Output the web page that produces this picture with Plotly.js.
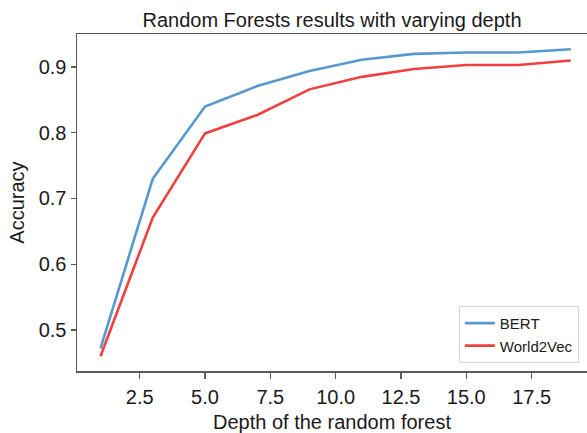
<!DOCTYPE html>
<html>
<head>
<meta charset="utf-8">
<script src="https://cdn.plot.ly/plotly-3.0.1.min.js"></script>
<style>
  html, body { margin: 0; padding: 0; background: #fff; overflow: hidden; }
  #chart { width: 587px; height: 433px; }
</style>
</head>
<body>
<div id="chart"></div>
<script>
// Tree depth settings that were evaluated
const depths = [1, 3, 5, 7, 9, 11, 13, 15, 17, 19];
// Mean accuracy at each depth for the two embedding types
const bertAccuracy = [0.472, 0.730, 0.840, 0.871, 0.894, 0.911, 0.920, 0.922, 0.922, 0.927];
const world2vecAccuracy = [0.460, 0.671, 0.799, 0.827, 0.866, 0.885, 0.897, 0.903, 0.903, 0.910];
const seriesNames = ['BERT', 'World2Vec'];
const xTickValues = [2.5, 5.0, 7.5, 10.0, 12.5, 15.0, 17.5];
const yTickValues = [0.5, 0.6, 0.7, 0.8, 0.9];

const FONT = 'Liberation Sans, Arial, Helvetica, sans-serif';
const AXIS_COLOR = '#5a5a5a';

const traces = [
  {
    x: depths, y: bertAccuracy, name: seriesNames[0],
    type: 'scatter', mode: 'lines',
    line: { color: 'rgb(86,153,208)', width: 2.6 }
  },
  {
    x: depths, y: world2vecAccuracy, name: seriesNames[1],
    type: 'scatter', mode: 'lines',
    line: { color: 'rgb(240,64,64)', width: 2.6 }
  }
];

const layout = {
  width: 587, height: 433,
  margin: { l: 77, r: 0, t: 34, b: 62, pad: 0 },
  paper_bgcolor: '#fff', plot_bgcolor: '#fff',
  font: { family: FONT, size: 20, color: '#1a1a1a' },
  title: {
    text: 'Random Forests results with varying depth',
    font: { family: FONT, size: 20, color: '#1a1a1a' },
    xref: 'paper', x: 0.5, xanchor: 'center',
    yref: 'container', y: 1 - 20 / 433, yanchor: 'middle'
  },
  xaxis: {
    range: [0.1, 19.62],
    tickvals: xTickValues,
    ticktext: xTickValues.map(v => v.toFixed(1)),
    showgrid: false, zeroline: false,
    showline: true, mirror: true, linecolor: AXIS_COLOR, linewidth: 1.5,
    ticks: 'outside', ticklen: 6, tickwidth: 1.3, tickcolor: AXIS_COLOR,
    ticklabelstandoff: 1,
    tickfont: { family: FONT, size: 20, color: '#1a1a1a' },
    title: { text: 'Depth of the random forest', standoff: 15,
             font: { family: FONT, size: 20, color: '#1a1a1a' } }
  },
  yaxis: {
    range: [0.4376, 0.9502],
    tickvals: yTickValues,
    ticktext: yTickValues.map(v => v.toFixed(1)),
    showgrid: false, zeroline: false,
    showline: true, mirror: false, linecolor: AXIS_COLOR, linewidth: 1.5,
    ticks: 'outside', ticklen: 5, tickwidth: 1.3, tickcolor: AXIS_COLOR,
    tickfont: { family: FONT, size: 20, color: '#1a1a1a' },
    title: { text: 'Accuracy', standoff: 8,
             font: { family: FONT, size: 20, color: '#1a1a1a' } }
  },
  showlegend: true,
  legend: {
    x: 0.984, xanchor: 'right', y: 0.024, yanchor: 'bottom',
    bgcolor: 'rgba(255,255,255,0.9)', bordercolor: '#d6d6d6', borderwidth: 1,
    font: { family: FONT, size: 15, color: '#1a1a1a' },
    tracegroupgap: 0, itemwidth: 30
  }
};

Plotly.newPlot('chart', traces, layout, { displayModeBar: false, staticPlot: true });
</script>
</body>
</html>
